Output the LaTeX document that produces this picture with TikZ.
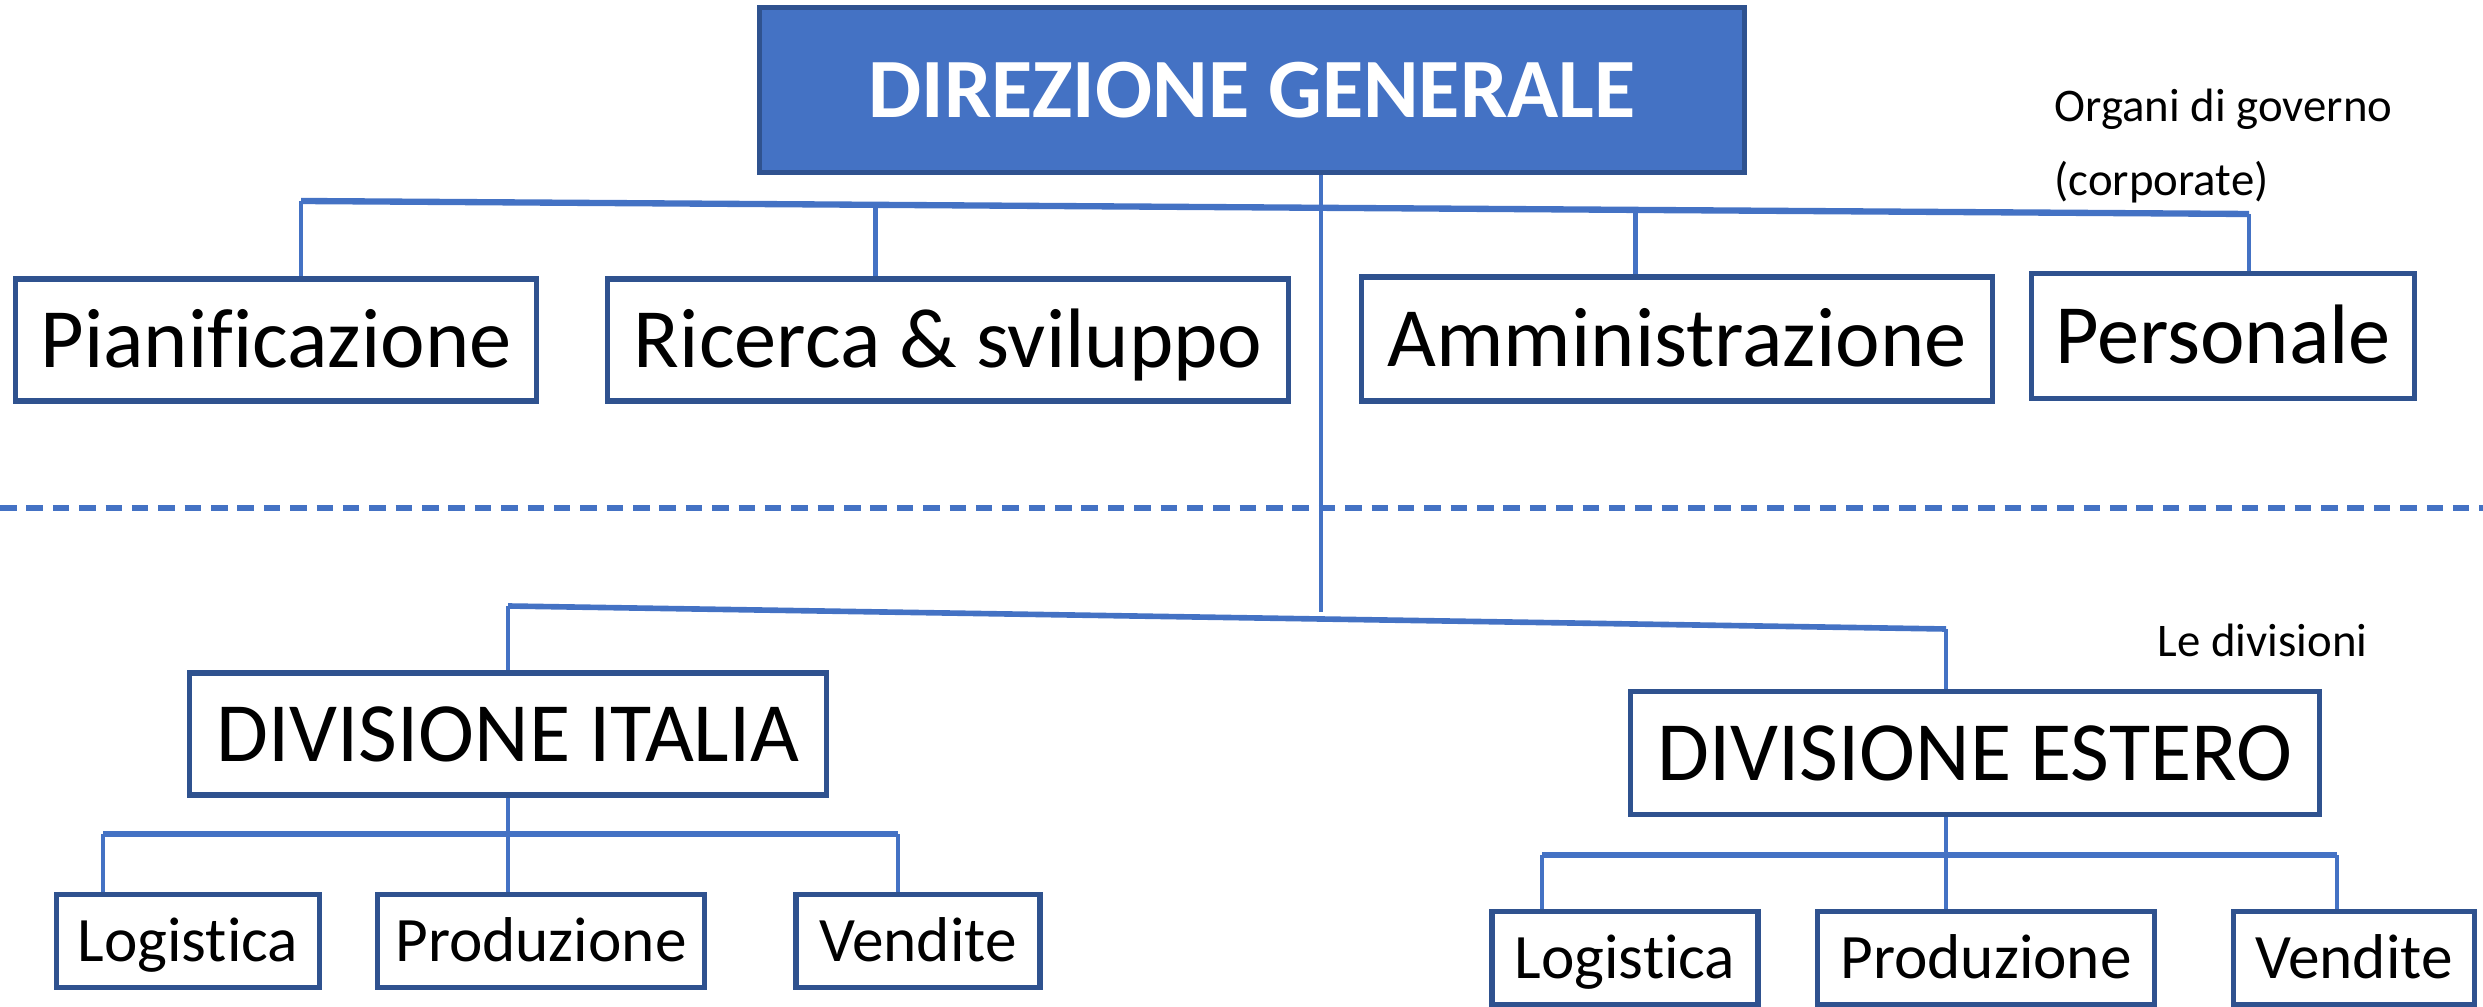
\documentclass[tikz,border=0pt]{standalone}
\usepackage{fontspec}
\setmainfont{Carlito}[Ligatures=CommonOff]
\definecolor{orgblue}{HTML}{4472C4}
\definecolor{orgdark}{HTML}{2F528F}
\tikzset{
  orgchart/.style={
    x=0.01cm, y=-0.01cm,
    every node/.style={inner sep=0pt},
    head/.style={
        draw=orgdark,
        fill=orgblue,
        line width=1.5pt,
        text=white,
        font=\fontsize{24}{29}\selectfont\bfseries,
        text height=15.5pt,
        text depth=0pt,
        minimum width=9.85cm,
        minimum height=1.65cm,
    },
    unit/.style={
        draw=orgdark,
        fill=white,
        line width=1.5pt,
        font=\fontsize{24}{29}\selectfont,
        text height=15.5pt,
        text depth=0pt,
        minimum height=1.22cm,
    },
    subunit/.style={
        draw=orgdark,
        fill=white,
        line width=1.5pt,
        font=\fontsize{18}{22}\selectfont,
        text height=11.6pt,
        text depth=0pt,
        minimum height=0.93cm,
    },
    link/.style={draw=orgblue, line width=1.3pt},
    note/.style={font=\fontsize{13.3}{17}\selectfont, align=left},
  }
}

\begin{document}
\begin{tikzpicture}[orgchart]
        \useasboundingbox (0,0) rectangle (2483,1007);

        \draw[orgblue, line width=1.7pt, dash pattern=on 4.7pt off 2.8pt] (0,508) -- (2483,508);

        \node[head] (dg) at (1252,90) {DIREZIONE GENERALE};

        \node[unit, minimum width=5.21cm] (pian) at (276,340) {Pianificazione};
        \node[unit, minimum width=6.81cm] (ric) at (948,340) {Ricerca \& sviluppo};
        \node[unit, minimum width=6.30cm, minimum height=1.24cm] (amm) at (1677,339) {Amministrazione};
        \node[unit, minimum width=3.83cm, minimum height=1.25cm] (pers) at (2223,336) {Personale};

        \node[unit, minimum width=6.37cm] (divit) at (508,734) {DIVISIONE ITALIA};
        \node[unit, minimum width=6.89cm, minimum height=1.23cm] (divest) at (1975,753) {DIVISIONE ESTERO};

        \node[subunit, minimum width=2.63cm] (logit) at (188,941) {Logistica};
        \node[subunit, minimum width=3.27cm] (prodit) at (541,941) {Produzione};
        \node[subunit, minimum width=2.44cm] (vendit) at (918,941) {Vendite};

        \node[subunit, minimum width=2.66cm] (loges) at (1625,958) {Logistica};
        \node[subunit, minimum width=3.37cm] (prodes) at (1986,958) {Produzione};
        \node[subunit, minimum width=2.41cm] (vendes) at (2354,958) {Vendite};

        \node[note, anchor=north west] (organi) at (2054,88) {Organi di governo\\[4pt](corporate)};
        \node[note, anchor=base west] (ledivisioni) at (2157,657) {Le divisioni};

        % organi di governo
        \coordinate (barL) at (301,201);
        \coordinate (barR) at (2249,214);
        \path (barL) -- (barR) coordinate[pos=0.295] (barRic) coordinate[pos=0.685] (barAmm);
        \draw[link, line width=1.8pt] (barL) -- (barR);
        \draw[link] (barL) -- (barL |- pian.north);
        \draw[link] (barRic) -- (barRic |- ric.north);
        \draw[link] (barAmm) -- (barAmm |- amm.north);
        \draw[link] (barR) -- (barR |- pers.north);

        % divisioni
        \coordinate (divjoin) at (1321,612);
        \coordinate (divL) at (508,606);
        \coordinate (divR) at (1946,629);
        \draw[link] (divjoin |- dg.south) -- (divjoin);
        \draw[link, line width=1.6pt] (divL) -- (divR);
        \draw[link] (divL) -- (divL |- divit.north);
        \draw[link] (divR) -- (divR |- divest.north);

        % divisione italia
        \coordinate (itL) at (103,834);
        \coordinate (itR) at (898,834);
        \draw[link, line width=1.6pt] (itL) -- (itR);
        \draw[link] (divit.south) -- (divit.south |- prodit.north);
        \draw[link] (itL) -- (itL |- logit.north);
        \draw[link] (itR) -- (itR |- vendit.north);

        % divisione estero
        \coordinate (esL) at (1542,855);
        \coordinate (esR) at (2337,855);
        \draw[link, line width=1.6pt] (esL) -- (esR);
        \draw[link] (divR |- divest.south) -- (divR |- prodes.north);
        \draw[link] (esL) -- (esL |- loges.north);
        \draw[link] (esR) -- (esR |- vendes.north);
\end{tikzpicture}
\end{document}
